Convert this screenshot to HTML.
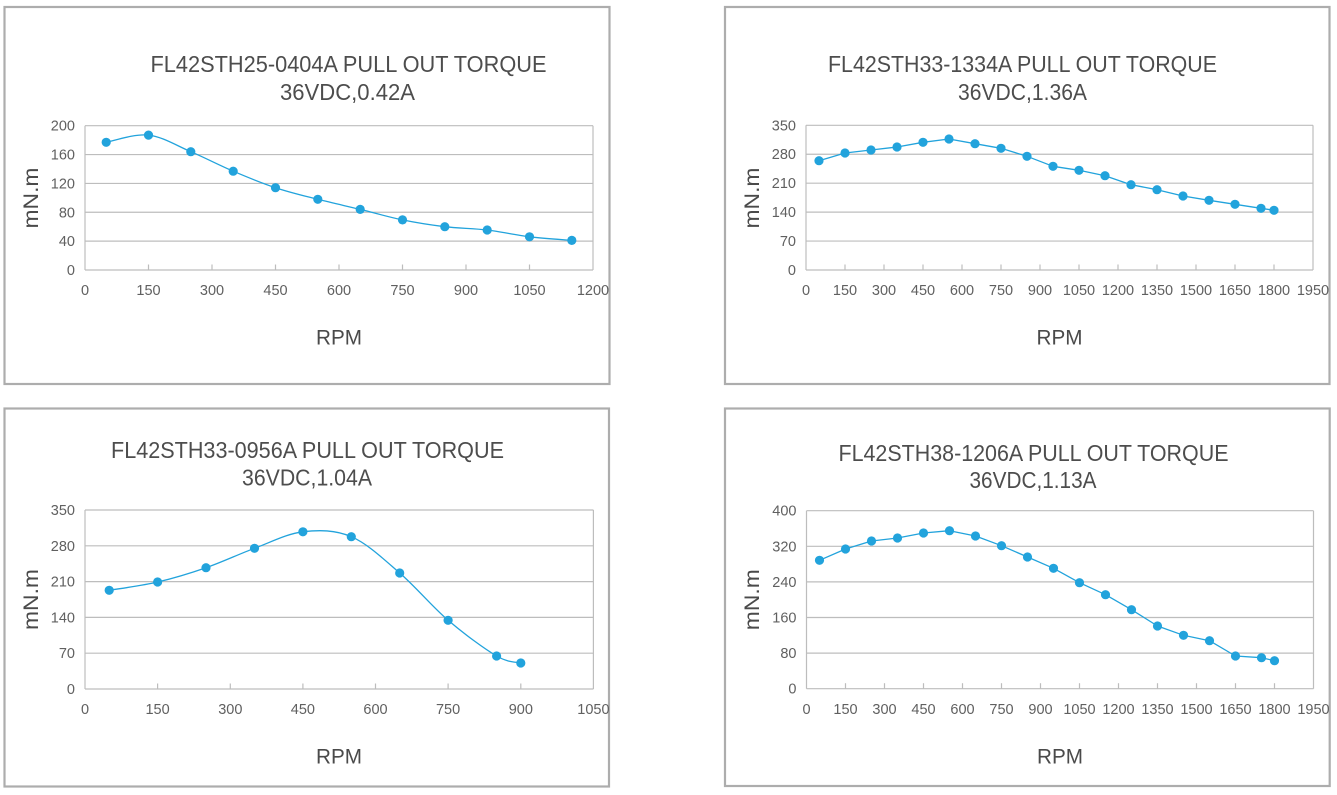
<!DOCTYPE html>
<html>
<head>
<meta charset="utf-8">
<style>
html,body{margin:0;padding:0;background:#fff;}
svg{display:block;}
text{font-family:"Liberation Sans",sans-serif;}
.tl{font-size:23px;fill:#4d4d4d;}
.yl{font-size:14.5px;fill:#606060;text-anchor:end;}
.xl{font-size:14.5px;fill:#606060;text-anchor:middle;}
.at{font-size:21px;fill:#4a4a4a;text-anchor:middle;}
.grid{stroke:#bdbdbd;stroke-width:1.2;fill:none;}
.tick{stroke:#bdbdbd;stroke-width:1.2;}
.frame{fill:none;stroke:#adadad;stroke-width:2.2;}
.ser{fill:none;stroke:#22a3dc;stroke-width:1.3;stroke-linejoin:round;}
.mk{fill:#22a3dc;}
</style>
</head>
<body>
<svg width="1337" height="795" viewBox="0 0 1337 795" xmlns="http://www.w3.org/2000/svg">
<rect x="0" y="0" width="1337" height="795" fill="#fff"/>

<!-- Panel frames -->
<rect class="frame" x="4.5" y="7" width="605" height="377"/>
<rect class="frame" x="725" y="7" width="604.5" height="377"/>
<rect class="frame" x="4.5" y="408.5" width="604.5" height="378"/>
<rect class="frame" x="725" y="408.5" width="604.7" height="377.5"/>

<!-- ================= PANEL 1 ================= -->
<text class="tl" x="348.5" y="72" text-anchor="middle" textLength="396" lengthAdjust="spacingAndGlyphs">FL42STH25-0404A PULL OUT TORQUE</text>
<text class="tl" x="347.5" y="100" text-anchor="middle" textLength="135" lengthAdjust="spacingAndGlyphs">36VDC,0.42A</text>
<g>
<line class="grid" x1="85" y1="125.7" x2="593" y2="125.7"/>
<line class="grid" x1="85" y1="154.56" x2="593" y2="154.56"/>
<line class="grid" x1="85" y1="183.42" x2="593" y2="183.42"/>
<line class="grid" x1="85" y1="212.28" x2="593" y2="212.28"/>
<line class="grid" x1="85" y1="241.14" x2="593" y2="241.14"/>
<line class="grid" x1="85" y1="270" x2="593" y2="270"/>
<line class="grid" x1="85" y1="125.7" x2="85" y2="270"/>
<line class="grid" x1="593" y1="125.7" x2="593" y2="270"/>
<line class="tick" x1="148.5" y1="264.5" x2="148.5" y2="270"/>
<line class="tick" x1="212" y1="264.5" x2="212" y2="270"/>
<line class="tick" x1="275.5" y1="264.5" x2="275.5" y2="270"/>
<line class="tick" x1="339" y1="264.5" x2="339" y2="270"/>
<line class="tick" x1="402.5" y1="264.5" x2="402.5" y2="270"/>
<line class="tick" x1="466" y1="264.5" x2="466" y2="270"/>
<line class="tick" x1="529.5" y1="264.5" x2="529.5" y2="270"/>
</g>
<text class="yl" x="75" y="130.7">200</text>
<text class="yl" x="75" y="159.6">160</text>
<text class="yl" x="75" y="188.4">120</text>
<text class="yl" x="75" y="217.3">80</text>
<text class="yl" x="75" y="246.1">40</text>
<text class="yl" x="75" y="275">0</text>
<text class="xl" x="85" y="295">0</text>
<text class="xl" x="148.5" y="295">150</text>
<text class="xl" x="212" y="295">300</text>
<text class="xl" x="275.5" y="295">450</text>
<text class="xl" x="339" y="295">600</text>
<text class="xl" x="402.5" y="295">750</text>
<text class="xl" x="466" y="295">900</text>
<text class="xl" x="529.5" y="295">1050</text>
<text class="xl" x="593" y="295">1200</text>
<text class="at" x="339" y="344.5" textLength="46" lengthAdjust="spacingAndGlyphs">RPM</text>
<text class="at" transform="translate(38,198) rotate(-90)" x="0" y="0" textLength="61" lengthAdjust="spacingAndGlyphs">mN.m</text>
<path class="ser" d="M106.2,142.3 C113.3,141.1 134.4,133.5 148.5,135.1 C162.6,136.7 176.7,145.7 190.8,151.7 C204.9,157.7 219.1,165.2 233.2,171.2 C247.3,177.2 261.4,183.0 275.5,187.7 C289.6,192.4 303.7,195.7 317.8,199.3 C331.9,202.9 346.1,206.0 360.2,209.4 C374.3,212.8 388.4,217.0 402.5,219.9 C416.6,222.8 430.7,225.0 444.8,226.7 C458.9,228.4 473.1,228.3 487.2,230.0 C501.3,231.7 515.4,235.1 529.5,236.8 C543.6,238.5 564.8,239.8 571.8,240.4"/>
<g class="mk">
<circle cx="106.2" cy="142.3" r="4.6"/><circle cx="148.5" cy="135.1" r="4.6"/><circle cx="190.8" cy="151.7" r="4.6"/><circle cx="233.2" cy="171.2" r="4.6"/><circle cx="275.5" cy="187.7" r="4.6"/><circle cx="317.8" cy="199.3" r="4.6"/><circle cx="360.2" cy="209.4" r="4.6"/><circle cx="402.5" cy="219.9" r="4.6"/><circle cx="444.8" cy="226.7" r="4.6"/><circle cx="487.2" cy="230.0" r="4.6"/><circle cx="529.5" cy="236.8" r="4.6"/><circle cx="571.8" cy="240.4" r="4.6"/>
</g>

<!-- ================= PANEL 2 ================= -->
<text class="tl" x="1022.5" y="72" text-anchor="middle" textLength="389" lengthAdjust="spacingAndGlyphs">FL42STH33-1334A PULL OUT TORQUE</text>
<text class="tl" x="1022.5" y="100" text-anchor="middle" textLength="129" lengthAdjust="spacingAndGlyphs">36VDC,1.36A</text>
<g>
<line class="grid" x1="806" y1="125.3" x2="1313" y2="125.3"/>
<line class="grid" x1="806" y1="154.24" x2="1313" y2="154.24"/>
<line class="grid" x1="806" y1="183.18" x2="1313" y2="183.18"/>
<line class="grid" x1="806" y1="212.12" x2="1313" y2="212.12"/>
<line class="grid" x1="806" y1="241.06" x2="1313" y2="241.06"/>
<line class="grid" x1="806" y1="270" x2="1313" y2="270"/>
<line class="grid" x1="806" y1="125.3" x2="806" y2="270"/>
<line class="grid" x1="1313" y1="125.3" x2="1313" y2="270"/>
<line class="tick" x1="845" y1="264.5" x2="845" y2="270"/>
<line class="tick" x1="884" y1="264.5" x2="884" y2="270"/>
<line class="tick" x1="923" y1="264.5" x2="923" y2="270"/>
<line class="tick" x1="962" y1="264.5" x2="962" y2="270"/>
<line class="tick" x1="1001" y1="264.5" x2="1001" y2="270"/>
<line class="tick" x1="1040" y1="264.5" x2="1040" y2="270"/>
<line class="tick" x1="1079" y1="264.5" x2="1079" y2="270"/>
<line class="tick" x1="1118" y1="264.5" x2="1118" y2="270"/>
<line class="tick" x1="1157" y1="264.5" x2="1157" y2="270"/>
<line class="tick" x1="1196" y1="264.5" x2="1196" y2="270"/>
<line class="tick" x1="1235" y1="264.5" x2="1235" y2="270"/>
<line class="tick" x1="1274" y1="264.5" x2="1274" y2="270"/>
</g>
<text class="yl" x="796" y="130.3">350</text>
<text class="yl" x="796" y="159.2">280</text>
<text class="yl" x="796" y="188.2">210</text>
<text class="yl" x="796" y="217.1">140</text>
<text class="yl" x="796" y="246.1">70</text>
<text class="yl" x="796" y="275">0</text>
<text class="xl" x="806" y="295">0</text>
<text class="xl" x="845" y="295">150</text>
<text class="xl" x="884" y="295">300</text>
<text class="xl" x="923" y="295">450</text>
<text class="xl" x="962" y="295">600</text>
<text class="xl" x="1001" y="295">750</text>
<text class="xl" x="1040" y="295">900</text>
<text class="xl" x="1079" y="295">1050</text>
<text class="xl" x="1118" y="295">1200</text>
<text class="xl" x="1157" y="295">1350</text>
<text class="xl" x="1196" y="295">1500</text>
<text class="xl" x="1235" y="295">1650</text>
<text class="xl" x="1274" y="295">1800</text>
<text class="xl" x="1313" y="295">1950</text>
<text class="at" x="1059.5" y="344.5" textLength="46" lengthAdjust="spacingAndGlyphs">RPM</text>
<text class="at" transform="translate(759,198) rotate(-90)" x="0" y="0" textLength="61" lengthAdjust="spacingAndGlyphs">mN.m</text>
<polyline class="ser" points="819,160.7 845,153 871,150 897,147 923,142.3 949,139 975,143.7 1001,148.3 1027,156.3 1053,166.3 1079,170.3 1105,175.7 1131,184.7 1157,189.7 1183,196 1209,200.3 1235,204.3 1261,208.3 1274,210.3"/>
<g class="mk">
<circle cx="819" cy="160.7" r="4.6"/><circle cx="845" cy="153" r="4.6"/><circle cx="871" cy="150" r="4.6"/><circle cx="897" cy="147" r="4.6"/><circle cx="923" cy="142.3" r="4.6"/><circle cx="949" cy="139" r="4.6"/><circle cx="975" cy="143.7" r="4.6"/><circle cx="1001" cy="148.3" r="4.6"/><circle cx="1027" cy="156.3" r="4.6"/><circle cx="1053" cy="166.3" r="4.6"/><circle cx="1079" cy="170.3" r="4.6"/><circle cx="1105" cy="175.7" r="4.6"/><circle cx="1131" cy="184.7" r="4.6"/><circle cx="1157" cy="189.7" r="4.6"/><circle cx="1183" cy="196" r="4.6"/><circle cx="1209" cy="200.3" r="4.6"/><circle cx="1235" cy="204.3" r="4.6"/><circle cx="1261" cy="208.3" r="4.6"/><circle cx="1274" cy="210.3" r="4.6"/>
</g>

<!-- ================= PANEL 3 ================= -->
<text class="tl" x="307.5" y="458" text-anchor="middle" textLength="393" lengthAdjust="spacingAndGlyphs">FL42STH33-0956A PULL OUT TORQUE</text>
<text class="tl" x="307" y="485.5" text-anchor="middle" textLength="130" lengthAdjust="spacingAndGlyphs">36VDC,1.04A</text>
<g>
<line class="grid" x1="85" y1="510" x2="593.4" y2="510"/>
<line class="grid" x1="85" y1="545.8" x2="593.4" y2="545.8"/>
<line class="grid" x1="85" y1="581.6" x2="593.4" y2="581.6"/>
<line class="grid" x1="85" y1="617.4" x2="593.4" y2="617.4"/>
<line class="grid" x1="85" y1="653.2" x2="593.4" y2="653.2"/>
<line class="grid" x1="85" y1="689" x2="593.4" y2="689"/>
<line class="grid" x1="85" y1="510" x2="85" y2="689"/>
<line class="grid" x1="593.4" y1="510" x2="593.4" y2="689"/>
<line class="tick" x1="157.6" y1="683.5" x2="157.6" y2="689"/>
<line class="tick" x1="230.3" y1="683.5" x2="230.3" y2="689"/>
<line class="tick" x1="302.9" y1="683.5" x2="302.9" y2="689"/>
<line class="tick" x1="375.5" y1="683.5" x2="375.5" y2="689"/>
<line class="tick" x1="448.1" y1="683.5" x2="448.1" y2="689"/>
<line class="tick" x1="520.8" y1="683.5" x2="520.8" y2="689"/>
</g>
<text class="yl" x="75" y="515">350</text>
<text class="yl" x="75" y="550.8">280</text>
<text class="yl" x="75" y="586.6">210</text>
<text class="yl" x="75" y="622.4">140</text>
<text class="yl" x="75" y="658.2">70</text>
<text class="yl" x="75" y="694">0</text>
<text class="xl" x="85" y="714">0</text>
<text class="xl" x="157.6" y="714">150</text>
<text class="xl" x="230.3" y="714">300</text>
<text class="xl" x="302.9" y="714">450</text>
<text class="xl" x="375.5" y="714">600</text>
<text class="xl" x="448.1" y="714">750</text>
<text class="xl" x="520.8" y="714">900</text>
<text class="xl" x="593.4" y="714">1050</text>
<text class="at" x="339" y="763.5" textLength="46" lengthAdjust="spacingAndGlyphs">RPM</text>
<text class="at" transform="translate(38,599.5) rotate(-90)" x="0" y="0" textLength="61" lengthAdjust="spacingAndGlyphs">mN.m</text>
<path class="ser" d="M109.2,590.3 C117.3,588.9 141.5,585.8 157.6,582.0 C173.7,578.2 189.9,573.3 206.0,567.7 C222.2,562.1 238.4,554.3 254.5,548.3 C270.7,542.3 286.8,533.7 302.9,531.8 C319.0,529.9 335.2,529.8 351.3,536.7 C367.4,543.6 383.6,559.1 399.7,573.0 C415.8,586.9 432.0,606.5 448.1,620.3 C464.3,634.1 484.5,648.9 496.6,656.0 C508.7,663.1 516.8,661.8 520.8,663.0"/>
<g class="mk">
<circle cx="109.2" cy="590.3" r="4.6"/><circle cx="157.6" cy="582.0" r="4.6"/><circle cx="206.0" cy="567.7" r="4.6"/><circle cx="254.5" cy="548.3" r="4.6"/><circle cx="302.9" cy="531.8" r="4.6"/><circle cx="351.3" cy="536.7" r="4.6"/><circle cx="399.7" cy="573.0" r="4.6"/><circle cx="448.1" cy="620.3" r="4.6"/><circle cx="496.6" cy="656.0" r="4.6"/><circle cx="520.8" cy="663.0" r="4.6"/>
</g>

<!-- ================= PANEL 4 ================= -->
<text class="tl" x="1033.5" y="461" text-anchor="middle" textLength="390" lengthAdjust="spacingAndGlyphs">FL42STH38-1206A PULL OUT TORQUE</text>
<text class="tl" x="1033" y="488" text-anchor="middle" textLength="127" lengthAdjust="spacingAndGlyphs">36VDC,1.13A</text>
<g>
<line class="grid" x1="806.5" y1="510.7" x2="1313.5" y2="510.7"/>
<line class="grid" x1="806.5" y1="546.3" x2="1313.5" y2="546.3"/>
<line class="grid" x1="806.5" y1="581.9" x2="1313.5" y2="581.9"/>
<line class="grid" x1="806.5" y1="617.5" x2="1313.5" y2="617.5"/>
<line class="grid" x1="806.5" y1="653.1" x2="1313.5" y2="653.1"/>
<line class="grid" x1="806.5" y1="688.7" x2="1313.5" y2="688.7"/>
<line class="grid" x1="806.5" y1="510.7" x2="806.5" y2="688.7"/>
<line class="grid" x1="1313.5" y1="510.7" x2="1313.5" y2="688.7"/>
<line class="tick" x1="845.5" y1="683.2" x2="845.5" y2="688.7"/>
<line class="tick" x1="884.5" y1="683.2" x2="884.5" y2="688.7"/>
<line class="tick" x1="923.5" y1="683.2" x2="923.5" y2="688.7"/>
<line class="tick" x1="962.5" y1="683.2" x2="962.5" y2="688.7"/>
<line class="tick" x1="1001.5" y1="683.2" x2="1001.5" y2="688.7"/>
<line class="tick" x1="1040.5" y1="683.2" x2="1040.5" y2="688.7"/>
<line class="tick" x1="1079.5" y1="683.2" x2="1079.5" y2="688.7"/>
<line class="tick" x1="1118.5" y1="683.2" x2="1118.5" y2="688.7"/>
<line class="tick" x1="1157.5" y1="683.2" x2="1157.5" y2="688.7"/>
<line class="tick" x1="1196.5" y1="683.2" x2="1196.5" y2="688.7"/>
<line class="tick" x1="1235.5" y1="683.2" x2="1235.5" y2="688.7"/>
<line class="tick" x1="1274.5" y1="683.2" x2="1274.5" y2="688.7"/>
</g>
<text class="yl" x="796.5" y="515.7">400</text>
<text class="yl" x="796.5" y="551.3">320</text>
<text class="yl" x="796.5" y="586.9">240</text>
<text class="yl" x="796.5" y="622.5">160</text>
<text class="yl" x="796.5" y="658.1">80</text>
<text class="yl" x="796.5" y="693.7">0</text>
<text class="xl" x="806.5" y="714">0</text>
<text class="xl" x="845.5" y="714">150</text>
<text class="xl" x="884.5" y="714">300</text>
<text class="xl" x="923.5" y="714">450</text>
<text class="xl" x="962.5" y="714">600</text>
<text class="xl" x="1001.5" y="714">750</text>
<text class="xl" x="1040.5" y="714">900</text>
<text class="xl" x="1079.5" y="714">1050</text>
<text class="xl" x="1118.5" y="714">1200</text>
<text class="xl" x="1157.5" y="714">1350</text>
<text class="xl" x="1196.5" y="714">1500</text>
<text class="xl" x="1235.5" y="714">1650</text>
<text class="xl" x="1274.5" y="714">1800</text>
<text class="xl" x="1313.5" y="714">1950</text>
<text class="at" x="1060" y="763.5" textLength="46" lengthAdjust="spacingAndGlyphs">RPM</text>
<text class="at" transform="translate(759,599.7) rotate(-90)" x="0" y="0" textLength="61" lengthAdjust="spacingAndGlyphs">mN.m</text>
<polyline class="ser" points="819.5,560.3 845.5,549 871.5,541 897.5,538 923.5,533 949.5,530.7 975.5,536 1001.5,545.7 1027.5,557 1053.5,568.3 1079.5,582.7 1105.5,594.7 1131.5,609.7 1157.5,626 1183.5,635.3 1209.5,640.7 1235.5,656 1261.5,657.7 1274.5,660.7"/>
<g class="mk">
<circle cx="819.5" cy="560.3" r="4.6"/><circle cx="845.5" cy="549" r="4.6"/><circle cx="871.5" cy="541" r="4.6"/><circle cx="897.5" cy="538" r="4.6"/><circle cx="923.5" cy="533" r="4.6"/><circle cx="949.5" cy="530.7" r="4.6"/><circle cx="975.5" cy="536" r="4.6"/><circle cx="1001.5" cy="545.7" r="4.6"/><circle cx="1027.5" cy="557" r="4.6"/><circle cx="1053.5" cy="568.3" r="4.6"/><circle cx="1079.5" cy="582.7" r="4.6"/><circle cx="1105.5" cy="594.7" r="4.6"/><circle cx="1131.5" cy="609.7" r="4.6"/><circle cx="1157.5" cy="626" r="4.6"/><circle cx="1183.5" cy="635.3" r="4.6"/><circle cx="1209.5" cy="640.7" r="4.6"/><circle cx="1235.5" cy="656" r="4.6"/><circle cx="1261.5" cy="657.7" r="4.6"/><circle cx="1274.5" cy="660.7" r="4.6"/>
</g>
</svg>
</body>
</html>
